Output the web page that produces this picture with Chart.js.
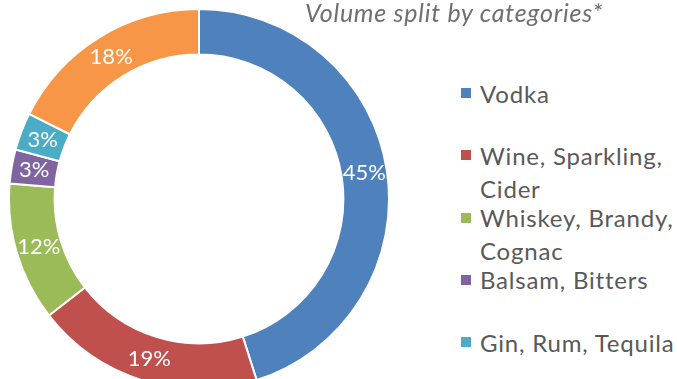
<!DOCTYPE html>
<html>
<head>
<meta charset="utf-8">
<script src="https://cdn.jsdelivr.net/npm/chart.js@4.4.1/dist/chart.umd.min.js"></script>
<style>
  html, body { margin: 0; padding: 0; background: #fff; overflow: hidden; width: 677px; height: 379px; }
  #wrap { position: absolute; left: 8px; top: 8px; width: 382px; height: 382px; }
  #title { position: absolute; left: 305px; top: -3px; font-family: Lato, sans-serif; font-style: italic; font-size: 25px; letter-spacing: 0.75px; color: #6f6f6f; white-space: nowrap; }
  #legend { position: absolute; left: 461px; top: 76.5px; width: 216px; font-family: Lato, sans-serif; font-size: 24px; letter-spacing: 0.8px; color: #595959; }
  .item { position: relative; height: 62.25px; padding-left: 19px; line-height: 33px; box-sizing: border-box; }
  .sw { position: absolute; left: 0; top: 11.5px; width: 10px; height: 10px; }
</style>
</head>
<body>
<div id="wrap"><canvas id="c"></canvas></div>
<div id="title"></div>
<div id="legend"></div>
<script>
const titleText = "Volume split by categories*";
const categories = ["Vodka", "Wine, Sparkling, Cider", "Whiskey, Brandy, Cognac", "Balsam, Bitters", "Gin, Rum, Tequila", "Other"];
const legendCategories = ["Vodka", "Wine, Sparkling, Cider", "Whiskey, Brandy, Cognac", "Balsam, Bitters", "Gin, Rum, Tequila"];
const shares = [45.1, 19.4, 11.8, 2.9, 3.2, 17.6];
const colors = ["#4F81BD", "#C0504D", "#9BBB59", "#8064A2", "#4BACC6", "#F79646"];

document.getElementById('title').textContent = titleText;

const legend = document.getElementById('legend');
legendCategories.forEach((name) => {
  const i = categories.indexOf(name);
  const it = document.createElement('div');
  it.className = 'item';
  const sw = document.createElement('div');
  sw.className = 'sw';
  sw.style.background = colors[i];
  it.appendChild(sw);
  const t = document.createElement('span');
  t.textContent = name;
  it.appendChild(t);
  legend.appendChild(it);
});

const pctLabels = {
  id: 'pctLabels',
  afterDatasetsDraw(chart) {
    const ctx = chart.ctx;
    const meta = chart.getDatasetMeta(0);
    const data = chart.data.datasets[0].data;
    const total = data.reduce((a, b) => a + b, 0);
    ctx.save();
    ctx.fillStyle = '#ffffff';
    ctx.font = '22px Lato, sans-serif';
    ctx.textAlign = 'center';
    ctx.textBaseline = 'middle';
    meta.data.forEach((arc, i) => {
      const p = arc.tooltipPosition();
      ctx.fillText(Math.round(data[i] / total * 100) + '%', p.x, p.y);
    });
    ctx.restore();
  }
};

new Chart(document.getElementById('c'), {
  type: 'doughnut',
  data: {
    labels: categories,
    datasets: [{
      data: shares,
      backgroundColor: colors,
      borderColor: '#ffffff',
      borderWidth: 2
    }]
  },
  options: {
    responsive: true,
    maintainAspectRatio: false,
    animation: false,
    cutout: '76%',
    layout: { padding: 0 },
    plugins: { legend: { display: false }, tooltip: { enabled: false }, title: { display: false } }
  },
  plugins: [pctLabels]
});
</script>
</body>
</html>
